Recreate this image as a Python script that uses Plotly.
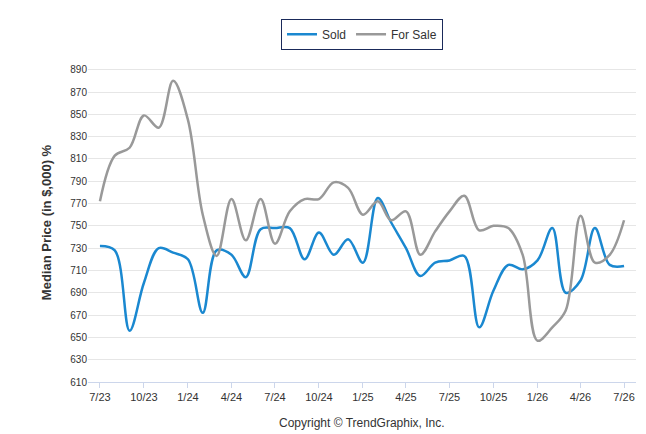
import pandas as pd
import plotly.graph_objects as go

# Monthly median prices, 7/23 - 7/26
months = pd.date_range("2023-07-01", "2026-07-01", freq="MS")
sold = [732, 728, 656, 699, 730, 726, 720, 672, 728, 724, 704, 747, 748, 748, 720, 744, 724, 738, 717,
        775, 753, 730, 705, 717, 719, 723, 659, 692, 715, 711, 719, 748, 690, 701, 748, 715, 714]
for_sale = [772, 813, 820, 849, 838, 880, 845, 760, 723, 774, 737, 774, 734, 763, 774, 774, 789, 784, 760,
            772, 755, 763, 724, 745, 763, 777, 746, 750, 748, 724, 647, 659, 674, 759, 717, 724, 755]
df = pd.DataFrame({"month": months, "Sold": sold, "For Sale": for_sale})

fig = go.Figure()
fig.add_trace(go.Scatter(x=df["month"], y=df["Sold"], name="Sold", mode="lines",
                         line=dict(color="#1a88d0", width=2.5, shape="spline")))
fig.add_trace(go.Scatter(x=df["month"], y=df["For Sale"], name="For Sale", mode="lines",
                         line=dict(color="#999999", width=2.5, shape="spline")))

tickvals = df["month"][::3]
fig.update_layout(
    width=646, height=434, plot_bgcolor="white", paper_bgcolor="white",
    font=dict(family="Arial, Liberation Sans", size=11, color="#333"),
    margin=dict(l=80, r=18, t=55, b=60),
    legend=dict(orientation="h", x=0.5, xanchor="center", yref="container", y=0.975, yanchor="top",
                bordercolor="#1a2a5a", borderwidth=1, font=dict(size=12)),
    xaxis=dict(tickvals=tickvals, ticktext=[d.strftime("%-m/%y") for d in tickvals],
               showgrid=False, showline=True, linecolor="#ccd6eb", ticks="outside",
               tickcolor="#ccd6eb", range=[months[0] - pd.Timedelta(days=25), months[-1] + pd.Timedelta(days=25)]),
    yaxis=dict(range=[610, 896], tickvals=list(range(610, 891, 20)), gridcolor="#e6e6e6",
               zeroline=False, tickfont=dict(size=10),
               title=dict(text="<b>Median Price (in $,000) %</b>", font=dict(size=13))),
)
fig.add_annotation(text="Copyright © TrendGraphix, Inc.", xref="paper", yref="paper",
                   x=0.5, y=-0.1, yanchor="top", showarrow=False, font=dict(size=12, color="#333"))

fig.write_html("out.html")
